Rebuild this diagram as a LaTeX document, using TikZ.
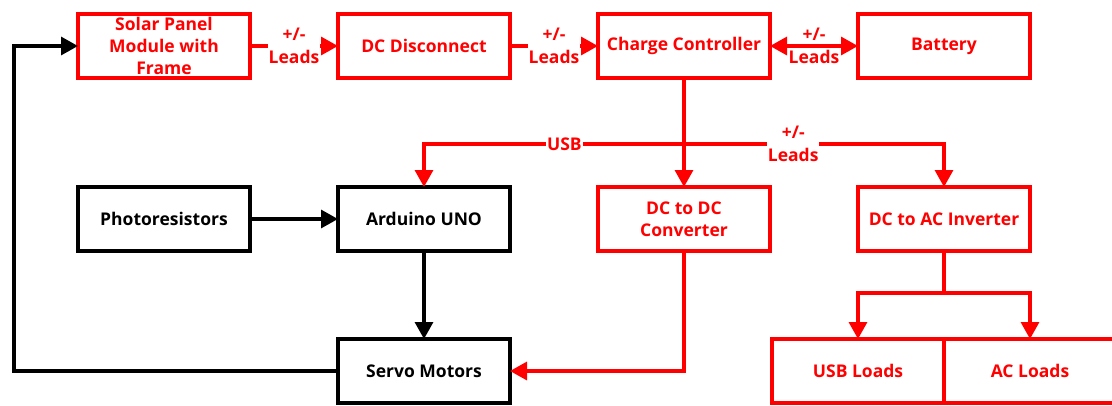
\documentclass[tikz,border=0pt]{standalone}
\usepackage{fontspec}
\setmainfont{Open Sans}
\usepackage{tikz}
\usepackage{xcolor}
\usetikzlibrary{positioning,arrows.meta,calc}
\definecolor{pvRed}{HTML}{FF0000}
\definecolor{ctlBlack}{HTML}{000000}

\begin{document}
\begin{tikzpicture}[
    x=1pt, y=-1pt,
    >={Triangle[length=17pt,width=18pt]},
    font=\bfseries\fontsize{17.5}{22}\selectfont,
    node distance=109pt and 88pt,
    base/.style={draw, line width=3.2pt, outer sep=0pt, fill=white,
      minimum width=172pt, minimum height=64pt, align=center, inner sep=1pt},
    power/.style={base, draw=pvRed, text=pvRed},
    ctrl/.style={base, draw=ctlBlack, text=ctlBlack},
    rarr/.style={->, draw=pvRed, line width=3.2pt},
    karr/.style={->, draw=ctlBlack, line width=3.2pt},
    lead/.style={text=pvRed, fill=white, align=center, inner sep=1pt,
      font=\bfseries\fontsize{17.5}{23}\selectfont},
  ]
\useasboundingbox (0,0) rectangle (1112,405);

% ===== Power chain =====
\node[power] (solar) at (164,46) {Solar Panel\\Module with\\Frame};
\node[power, right=of solar] (disc) {DC Disconnect};
\node[power, right=of disc] (cc) {Charge Controller};
\node[power, right=of cc] (bat) {Battery};

% ===== Tracking and loads =====
\node[ctrl, below=of solar] (photo) {Photoresistors};
\node[ctrl, below=of disc] (ard) {Arduino UNO};
\node[power, below=of cc] (dcdc) {DC to DC\\Converter};
\node[power, below=of bat] (inv) {DC to AC Inverter};
\node[ctrl, below=88pt of ard] (servo) {Servo Motors};
\node[power, anchor=north east] (usbl) at ($(inv.south)+(0,88)$) {USB Loads};
\node[power, right=0pt of usbl] (acl) {AC Loads};

\coordinate (tap) at (cc.south |- 0,144);
\coordinate (fork) at ($(inv.south)+(0,42)$);
\coordinate (back) at (14,371);

% Arrows
\draw[rarr] (solar) -- node[lead] {+/-\\Leads} (disc);
\draw[rarr] (disc) -- node[lead] {+/-\\Leads} (cc);
\draw[rarr, <->] (cc) -- node[lead, fill=none] {+/-\\Leads} (bat);
\draw[rarr] (cc) -- (dcdc);
\draw[rarr] (tap) -| node[lead, pos=0.23] {USB} (ard);
\draw[rarr] (tap) -| node[lead, pos=0.21] {+/-\\Leads} (inv);
\draw[rarr] (dcdc) |- (servo);
\draw[rarr] (inv) -- (fork) -| (usbl);
\draw[rarr] (fork) -| (acl);
\draw[karr] (photo) -- (ard);
\draw[karr] (ard) -- (servo);
\draw[karr] (servo) -- (back) |- (solar);

\end{tikzpicture}
\end{document}
